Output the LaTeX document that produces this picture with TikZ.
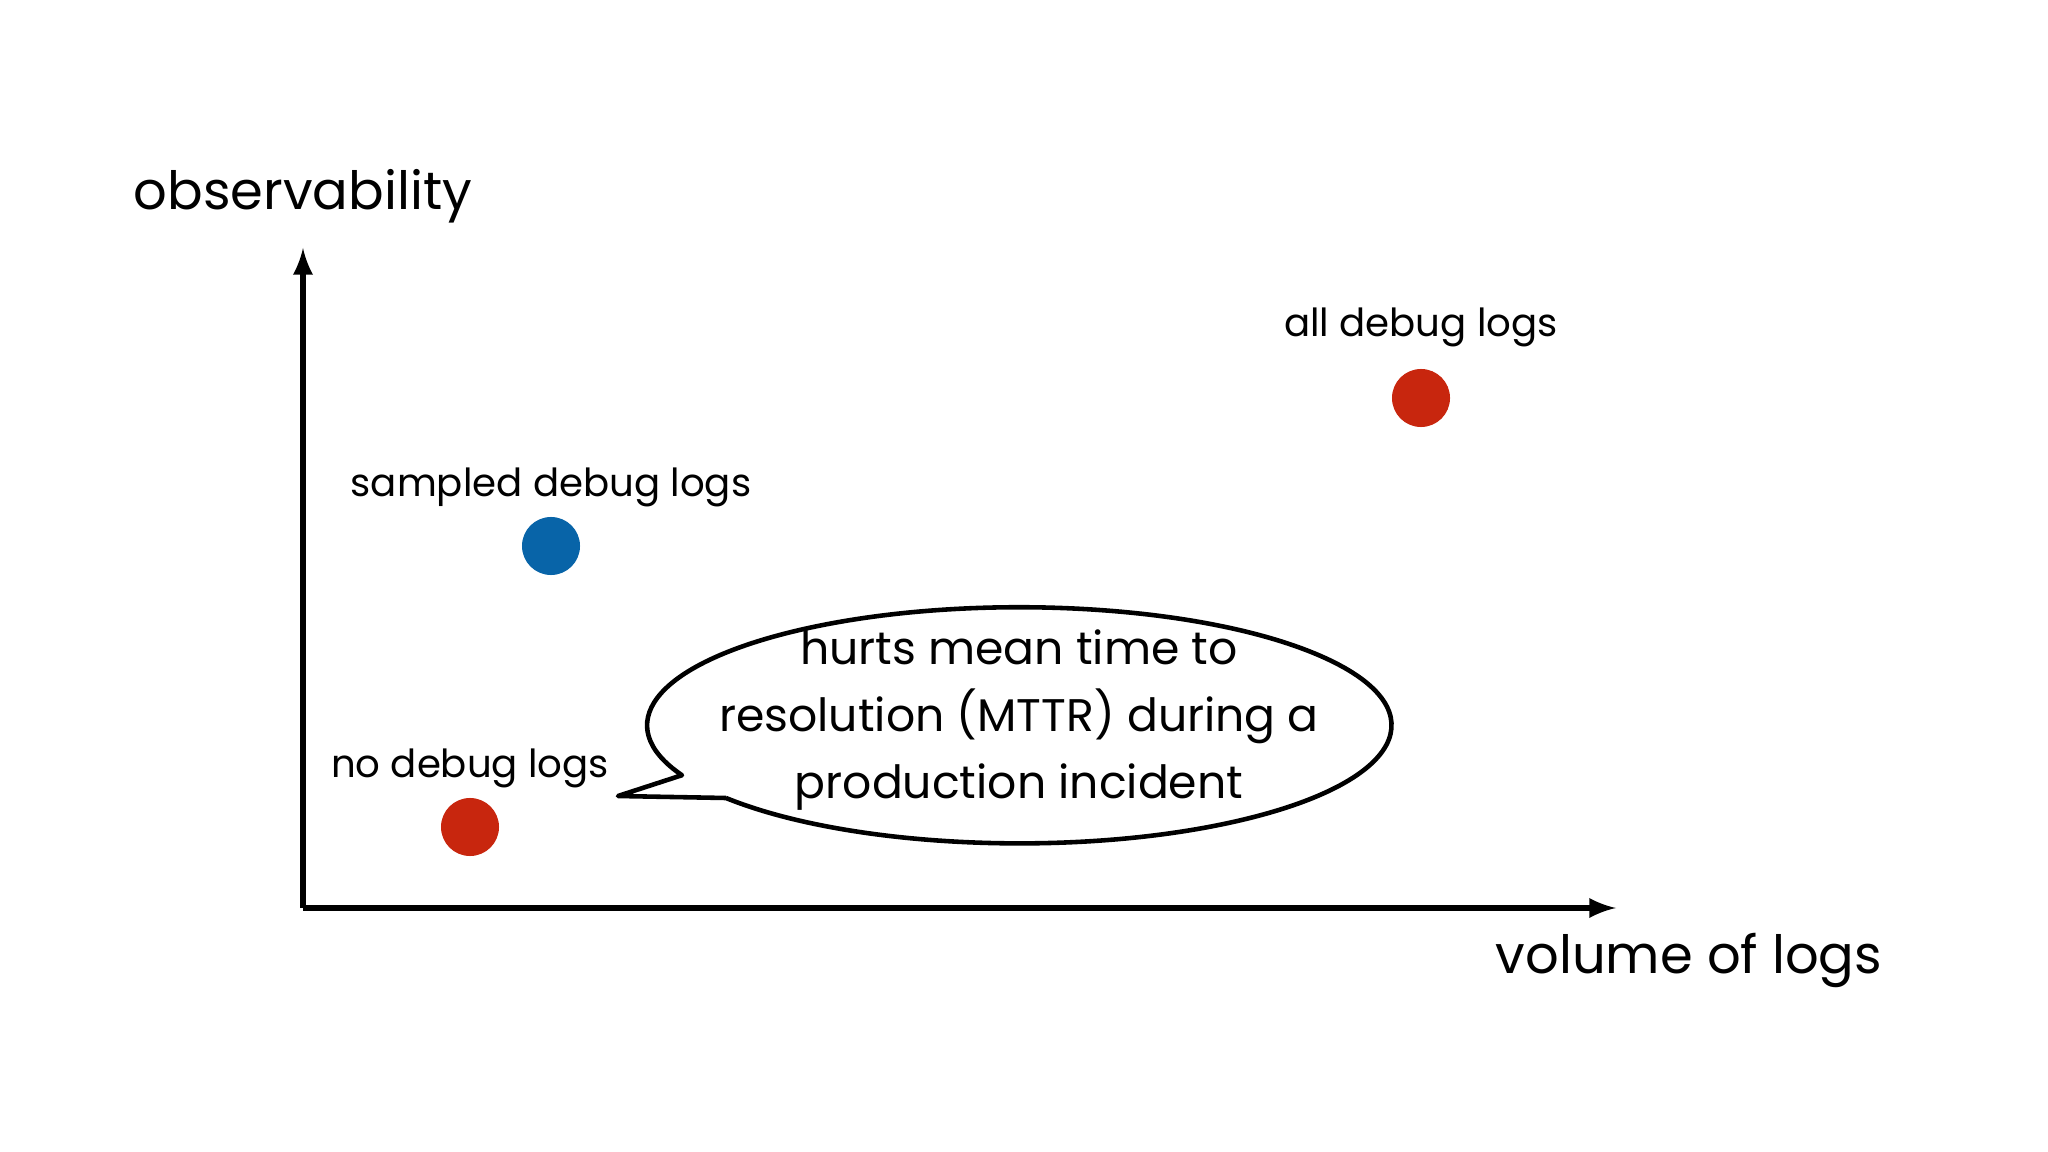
\documentclass[tikz,border=0pt]{standalone}
\usepackage{fontspec}
\setmainfont{Poppins}
\begin{document}
\begin{tikzpicture}[x=0.01cm,y=-0.01cm,
  lbl/.style={font=\fontsize{11}{13}\selectfont},
  big/.style={font=\fontsize{15}{18}\selectfont},
  dot/.style={circle,minimum size=0.58cm,inner sep=0},
  ax/.style={line width=1.6pt,-latex}]
\useasboundingbox (0,0) rectangle (2048,1152);
\coordinate (o) at (303,908);
\coordinate (yt) at (303,248);
\coordinate (xt) at (1616,908);
\draw[ax] (o) -- (yt);
\draw[ax] (o) -- (xt);
\node[big] (yl) at (303,196) {observability};
\node[big] (xl) at (1689,960) {volume of logs};
\node[dot,fill={rgb,255:red,200;green,38;blue,14}] (a) at (1421,398) {};
\node[lbl] (al) at (1421,327) {all debug logs};
\node[dot,fill={rgb,255:red,8;green,100;blue,168}] (s) at (551,546) {};
\node[lbl] (sl) at (551,487) {sampled debug logs};
\node[dot,fill={rgb,255:red,200;green,38;blue,14}] (n) at (470,827) {};
\node[lbl] (nl) at (470,768) {no debug logs};
\coordinate (j) at (726,798);
\coordinate (tip) at (618,796);
\draw[line width=1.3pt,line join=round] (j)
  arc[start angle=218,end angle=565,x radius=3.72cm,y radius=1.18cm]
  -- (tip) -- (j);
\node[align=center,font=\fontsize{13}{19}\selectfont] (b) at (1019,720)
 {hurts mean time to\\resolution (MTTR) during a\\production incident};
\end{tikzpicture}
\end{document}
